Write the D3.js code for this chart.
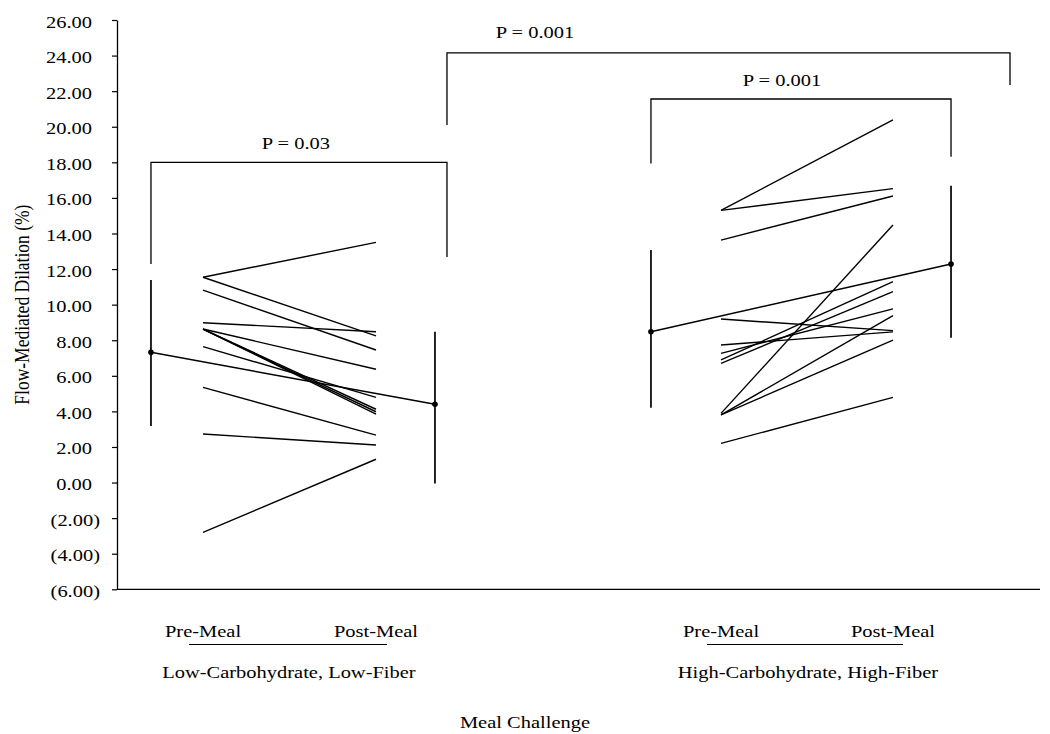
<!DOCTYPE html>
<html><head><meta charset="utf-8">
<script src="https://cdn.jsdelivr.net/npm/d3@7"></script>
<style>
body{margin:0;background:#fff}
svg{display:block;background:#fff}
text{font-family:"Liberation Serif","Times New Roman",serif;fill:#000}
</style>
</head><body>
<svg id="chart" width="1050" height="734"></svg>
<script>
// ---------- data ----------
const timeLabels = ["Pre-Meal", "Post-Meal"];
const groupLabels = ["Low-Carbohydrate, Low-Fiber", "High-Carbohydrate, High-Fiber"];
const xTitle = "Meal Challenge";
const yTitle = "Flow-Mediated Dilation (%)";
const yTicks = [-6, -4, -2, 0, 2, 4, 6, 8, 10, 12, 14, 16, 18, 20, 22, 24, 26];

// individual subjects, low-carbohydrate / low-fiber meal
const lcPre  = [11.54, 11.54, 10.82, 8.98, 8.63, 8.63, 8.63, 8.63, 7.64, 5.35, 2.73, -2.80];
const lcPost = [13.50,  8.24,  7.45, 8.48, 6.37, 4.12, 3.98, 3.85, 4.79, 2.67, 2.11,  1.31];
// individual subjects, high-carbohydrate / high-fiber meal
const hcPre  = [15.30, 15.30, 13.63, 3.89, 9.19, 7.73, 7.26, 6.89, 6.70, 3.80, 3.80, 2.20];
const hcPost = [20.38, 16.52, 16.11, 14.48, 8.54, 8.47, 9.76, 11.29, 10.73, 9.38, 8.01, 4.79];

// group means with error bars [pre, post]
const lcMean = [7.32, 4.40];
const lcErrLow = [3.18, -0.05];
const lcErrHigh = [11.38, 8.48];
const hcMean = [8.48, 12.28];
const hcErrLow = [4.21, 8.14];
const hcErrHigh = [13.07, 16.69];

// significance brackets: [left leg end, bracket top, right leg end]
const pLabels = ["P = 0.03", "P = 0.001", "P = 0.001"];
const bracketLC = [12.28, 18.0, 12.68];
const bracketBetween = [20.1, 24.15, 22.35];
const bracketHC = [17.93, 21.56, 18.32];

// ---------- layout ----------
const W = 1050, H = 734;
const axisX = 117, axisRight = 1040, yTop = 20, yBottom = 589.3;
const STRETCH = 1.17, FS = 17.5;
// horizontal slots in axis units (0..100)
const slot = {
  lcMeanPre: 3.68, lcPre: 9.32, lcPost: 28.06, lcMeanPost: 34.45, lcBracketR: 35.75,
  hcMeanPre: 57.85, hcPre: 65.44, hcPost: 84.07, hcMeanPost: 90.36, betweenR: 96.75,
  pLC: 19.39, pBetween: 45.29, pHC: 72.05,
  lcCenter: 18.63, hcCenter: 74.86, lcLineL: 7.8, lcLineR: 29.25, hcLineL: 63.92, hcLineR: 85.16,
  title: 44.2
};
const labelGap = [13, 15, 13];

const svg = d3.select("#chart");
const x = d3.scaleLinear().domain([0, 100]).range([axisX, axisRight]);
const y = d3.scaleLinear().domain([-6, 26]).range([yBottom, yTop]);

function txt(g, px, py, s, anchor) {
  return g.append("text")
    .attr("transform", `translate(${px},${py}) scale(${STRETCH},1)`)
    .attr("text-anchor", anchor || "middle")
    .style("font-size", FS + "px")
    .text(s);
}

// ---------- y axis ----------
const yAxis = d3.axisLeft(y).tickValues(yTicks).tickSize(5).tickSizeOuter(0)
  .tickFormat(v => v < 0 ? `(${Math.abs(v).toFixed(2)})` : v.toFixed(2));
const ga = svg.append("g").attr("transform", `translate(${axisX},0)`).call(yAxis);
ga.attr("font-family", null);
ga.select(".domain").attr("stroke", "#000").attr("stroke-width", 1.3);
ga.selectAll(".tick line").attr("stroke", "#000").attr("stroke-width", 1.2);
ga.selectAll(".tick text")
  .attr("fill", "#000")
  .style("font-family", '"Liberation Serif","Times New Roman",serif')
  .style("font-size", FS + "px")
  .attr("dy", "0.40em")
  .attr("x", d => d < 0 ? -17 / STRETCH : -25 / STRETCH)
  .attr("transform", `scale(${STRETCH},1)`);

// x axis line
svg.append("line").attr("x1", axisX).attr("x2", axisRight)
  .attr("y1", y(-6)).attr("y2", y(-6)).attr("stroke", "#000").attr("stroke-width", 1.3);

// ---------- individual lines ----------
const plot = svg.append("g");
function subjectLines(pre, post, xa, xb) {
  plot.selectAll(null).data(pre.map((p, i) => [p, post[i]])).enter().append("line")
    .attr("x1", x(xa)).attr("x2", x(xb))
    .attr("y1", d => y(d[0])).attr("y2", d => y(d[1]))
    .attr("stroke", "#000").attr("stroke-width", 1.4);
}
subjectLines(lcPre, lcPost, slot.lcPre, slot.lcPost);
subjectLines(hcPre, hcPost, slot.hcPre, slot.hcPost);

// ---------- means with error bars ----------
function meanSeries(mean, lo, hi, xs) {
  plot.selectAll(null).data(mean.map((m, i) => ({ m, lo: lo[i], hi: hi[i], xp: xs[i] }))).enter()
    .append("line")
    .attr("x1", d => x(d.xp)).attr("x2", d => x(d.xp))
    .attr("y1", d => y(d.lo)).attr("y2", d => y(d.hi))
    .attr("stroke", "#000").attr("stroke-width", 1.7);
  plot.append("line")
    .attr("x1", x(xs[0])).attr("x2", x(xs[1]))
    .attr("y1", y(mean[0])).attr("y2", y(mean[1]))
    .attr("stroke", "#000").attr("stroke-width", 1.5);
  plot.selectAll(null).data(mean).enter().append("circle")
    .attr("cx", (d, i) => x(xs[i])).attr("cy", d => y(d)).attr("r", 2.8).attr("fill", "#000");
}
meanSeries(lcMean, lcErrLow, lcErrHigh, [slot.lcMeanPre, slot.lcMeanPost]);
meanSeries(hcMean, hcErrLow, hcErrHigh, [slot.hcMeanPre, slot.hcMeanPost]);

// ---------- brackets ----------
function bracket(b, xl, xr, label, xlab, gap) {
  const path = d3.path();
  path.moveTo(x(xl), y(b[0]));
  path.lineTo(x(xl), y(b[1]));
  path.lineTo(x(xr), y(b[1]));
  path.lineTo(x(xr), y(b[2]));
  svg.append("path").attr("d", path.toString()).attr("fill", "none")
    .attr("stroke", "#000").attr("stroke-width", 1.3);
  txt(svg, x(xlab), y(b[1]) - gap, label);
}
bracket(bracketLC, slot.lcMeanPre, slot.lcBracketR, pLabels[0], slot.pLC, labelGap[0]);
bracket(bracketBetween, slot.lcBracketR, slot.betweenR, pLabels[1], slot.pBetween, labelGap[1]);
bracket(bracketHC, slot.hcMeanPre, slot.hcMeanPost, pLabels[2], slot.pHC, labelGap[2]);

// ---------- category labels ----------
const groups = [
  { pre: slot.lcPre, post: slot.lcPost, c: slot.lcCenter, l: slot.lcLineL, r: slot.lcLineR },
  { pre: slot.hcPre, post: slot.hcPost, c: slot.hcCenter, l: slot.hcLineL, r: slot.hcLineR }
];
groups.forEach((g, i) => {
  txt(svg, x(g.pre), 637, timeLabels[0]);
  txt(svg, x(g.post), 637, timeLabels[1]);
  svg.append("line").attr("x1", x(g.l)).attr("x2", x(g.r)).attr("y1", 644.5).attr("y2", 644.5)
    .attr("stroke", "#000").attr("stroke-width", 1.2);
  txt(svg, x(g.c), 678, groupLabels[i]);
});
txt(svg, x(slot.title), 728, xTitle);

// y title
svg.append("text")
  .attr("transform", `translate(29,${(yTop + yBottom) / 2}) scale(${STRETCH},1) rotate(-90)`)
  .attr("text-anchor", "middle").style("font-size", FS + "px").text(yTitle);
</script>
</body></html>
